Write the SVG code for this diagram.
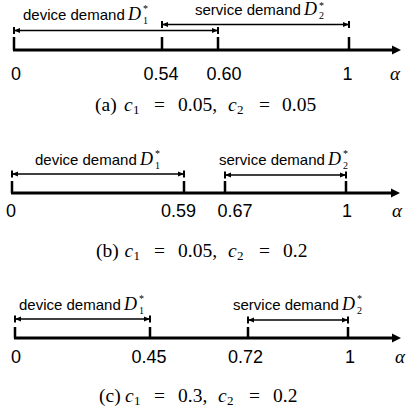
<svg xmlns="http://www.w3.org/2000/svg" width="407" height="416" viewBox="0 0 407 416">
<style>
.axis{stroke:#000;stroke-width:3;fill:none}
.tick{stroke:#000;stroke-width:2.5;fill:none}
.br{stroke:#000;stroke-width:1.5;fill:none;marker-start:url(#cap);marker-end:url(#cap)}
.lbl{font-family:"Liberation Sans",Arial,sans-serif;font-size:15px;fill:#000}
.num{font-family:"Liberation Sans",Arial,sans-serif;font-size:18px;fill:#000;text-anchor:middle}
.mi{font-family:"Liberation Serif","Times New Roman",serif;font-style:italic;fill:#000}
.cap{font-family:"Liberation Serif","Times New Roman",serif;font-size:19.5px;fill:#000}
.it{font-style:italic}
.sb{font-size:13px}
.sm{font-family:"Liberation Serif","Times New Roman",serif;font-size:10px;fill:#000}
</style>
<defs>
<marker id="cap" markerUnits="userSpaceOnUse" markerWidth="12" markerHeight="12" viewBox="-8 -6 12 12" refX="0" refY="0" orient="auto-start-reverse" overflow="visible">
<path d="M-6,-2.5 L0,0 L-6,2.5 Z" fill="#000"/>
<path d="M0,-3.5 V3.5" stroke="#000" stroke-width="2"/>
</marker>
</defs>

<!-- Panel (a) -->
<g id="panel-a">
<g id="a-axis">
<path class="axis" d="M13,50 H393"/>
<path d="M392,45.5 L401,50 L392,54.5 Z" fill="#000"/>
</g>
<g id="a-ticks">
<path class="tick" d="M14,37 V50 M162,37 V50 M218,37 V50 M349,37 V50"/>
</g>
<g id="a-connectors">
<path class="br" d="M14,30.5 H218"/>
<path class="br" d="M162,24.5 H349"/>
</g>
<g id="a-device-label">
<text class="lbl" x="23" y="20">device demand</text>
<text class="mi" x="128" y="20" font-size="18">D</text>
<text class="sm" x="143" y="12">*</text>
<text class="sm" x="143" y="24">1</text>
</g>
<g id="a-service-label">
<text class="lbl" x="195" y="15">service demand</text>
<text class="mi" x="304" y="15" font-size="18">D</text>
<text class="sm" x="319" y="9">*</text>
<text class="sm" x="319" y="19">2</text>
</g>
<g id="a-numbers">
<text class="num" x="16" y="80">0</text>
<text class="num" x="161" y="80">0.54</text>
<text class="num" x="224" y="80">0.60</text>
<text class="num" x="347.5" y="80">1</text>
<text class="mi" x="390" y="80" font-size="19">α</text>
</g>
<text id="a-caption" class="cap" y="111"><tspan x="95">(a)</tspan><tspan class="it" x="124">c</tspan><tspan class="sb" x="133" dy="3">1</tspan><tspan x="154" dy="-3">=</tspan><tspan x="178">0.05,</tspan><tspan class="it" x="228">c</tspan><tspan class="sb" x="237" dy="3">2</tspan><tspan x="259" dy="-3">=</tspan><tspan x="282">0.05</tspan></text>
</g>

<!-- Panel (b) -->
<g id="panel-b">
<g id="b-axis">
<path class="axis" d="M11,193 H392"/>
<path d="M391,188.5 L400,193 L391,197.5 Z" fill="#000"/>
</g>
<g id="b-ticks">
<path class="tick" d="M12,181 V193 M184,181 V193 M225,181 V193 M346,181 V193"/>
</g>
<g id="b-connectors">
<path class="br" d="M12,174 H184"/>
<path class="br" d="M225,175 H346"/>
</g>
<g id="b-device-label">
<text class="lbl" x="35" y="165">device demand</text>
<text class="mi" x="140" y="165" font-size="18">D</text>
<text class="sm" x="155" y="157">*</text>
<text class="sm" x="155" y="169">1</text>
</g>
<g id="b-service-label">
<text class="lbl" x="219" y="165">service demand</text>
<text class="mi" x="328" y="165" font-size="18">D</text>
<text class="sm" x="343" y="157">*</text>
<text class="sm" x="343" y="169">2</text>
</g>
<g id="b-numbers">
<text class="num" x="11" y="217">0</text>
<text class="num" x="178.5" y="217">0.59</text>
<text class="num" x="235" y="217">0.67</text>
<text class="num" x="347" y="217">1</text>
<text class="mi" x="392" y="217" font-size="19">α</text>
</g>
<text id="b-caption" class="cap" y="257"><tspan x="96">(b)</tspan><tspan class="it" x="124.5">c</tspan><tspan class="sb" x="133.5" dy="3">1</tspan><tspan x="154" dy="-3">=</tspan><tspan x="178">0.05,</tspan><tspan class="it" x="228">c</tspan><tspan class="sb" x="237" dy="3">2</tspan><tspan x="259" dy="-3">=</tspan><tspan x="283">0.2</tspan></text>
</g>

<!-- Panel (c) -->
<g id="panel-c">
<g id="c-axis">
<path class="axis" d="M14,338 H393"/>
<path d="M392,333.5 L401,338 L392,342.5 Z" fill="#000"/>
</g>
<g id="c-ticks">
<path class="tick" d="M15,327 V338 M150,327 V338 M248,327 V338 M348,327 V338"/>
</g>
<g id="c-connectors">
<path class="br" d="M15,319 H150"/>
<path class="br" d="M248,320 H348"/>
</g>
<g id="c-device-label">
<text class="lbl" x="19" y="310">device demand</text>
<text class="mi" x="124" y="310" font-size="18">D</text>
<text class="sm" x="139" y="302">*</text>
<text class="sm" x="139" y="314">1</text>
</g>
<g id="c-service-label">
<text class="lbl" x="233" y="310">service demand</text>
<text class="mi" x="342" y="310" font-size="18">D</text>
<text class="sm" x="357" y="302">*</text>
<text class="sm" x="357" y="314">2</text>
</g>
<g id="c-numbers">
<text class="num" x="16" y="363">0</text>
<text class="num" x="149" y="363">0.45</text>
<text class="num" x="245.5" y="363">0.72</text>
<text class="num" x="350" y="363">1</text>
<text class="mi" x="395" y="363" font-size="19">α</text>
</g>
<text id="c-caption" class="cap" y="402"><tspan x="99">(c)</tspan><tspan class="it" x="125">c</tspan><tspan class="sb" x="134" dy="3">1</tspan><tspan x="154" dy="-3">=</tspan><tspan x="178">0.3,</tspan><tspan class="it" x="218">c</tspan><tspan class="sb" x="227" dy="3">2</tspan><tspan x="249" dy="-3">=</tspan><tspan x="273">0.2</tspan></text>
</g>
</svg>
